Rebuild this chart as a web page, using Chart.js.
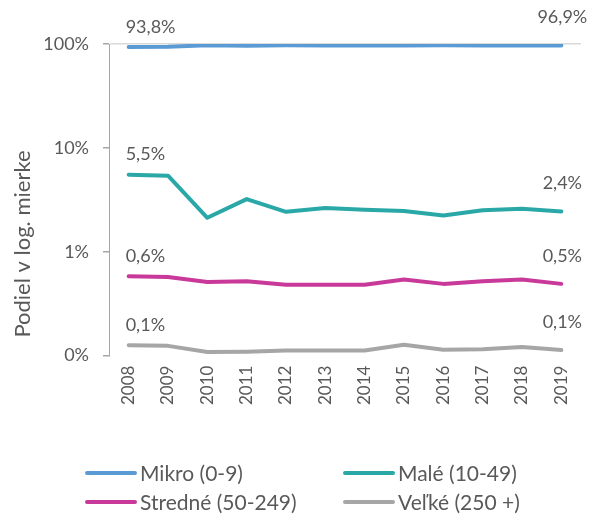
<!DOCTYPE html>
<html>
<head>
<meta charset="utf-8">
<script src="https://cdn.jsdelivr.net/npm/chart.js@4"></script>
<style>
  html, body { margin: 0; padding: 0; background: #fff; }
  #wrap { position: relative; width: 601px; height: 517px; }
  #legend {
    position: absolute; left: 85px; top: 458px;
    display: grid; grid-template-columns: 258px auto; grid-auto-rows: 29px;
    font-family: Lato, sans-serif; font-size: 21px; color: #595959;
  }
  #legend .item { display: flex; align-items: center; white-space: nowrap; }
  #legend .swatch { width: 52px; height: 4px; border-radius: 2px; margin-right: 3px; }
</style>
</head>
<body>
<div id="wrap">
  <canvas id="chart" width="601" height="517"></canvas>
  <div id="legend"></div>
</div>
<script>
const years = ["2008", "2009", "2010", "2011", "2012", "2013", "2014", "2015", "2016", "2017", "2018", "2019"];
const mikro = [93.8, 93.9, 97.3, 96.2, 97.0, 96.8, 96.9, 96.9, 97.2, 96.9, 96.8, 96.9];
const male = [5.52, 5.39, 2.12, 3.21, 2.42, 2.64, 2.53, 2.46, 2.23, 2.51, 2.59, 2.44];
const stredne = [0.58, 0.57, 0.51, 0.52, 0.48, 0.48, 0.48, 0.54, 0.49, 0.52, 0.54, 0.49];
const velke = [0.126, 0.124, 0.108, 0.109, 0.112, 0.112, 0.112, 0.127, 0.114, 0.115, 0.121, 0.113];
const seriesNames = ["Mikro (0-9)", "Malé (10-49)", "Stredné (50-249)", "Veľké (250 +)"];
const seriesColors = ["#5b9bd5", "#2aa8a8", "#c8399a", "#a6a6a6"];
const yTickValues = [0.1, 1, 10, 100];
const yTickLabels = ["0%", "1%", "10%", "100%"];
const yTitle = "Podiel v log. mierke";

const textColor = "#595959";
const fmt = (v) => v.toFixed(1).replace(".", ",") + "%";

// labels at first and last point + rotated axis title
const endLabels = {
  id: "endLabels",
  afterDatasetsDraw(chart) {
    const ctx = chart.ctx;
    ctx.save();
    ctx.font = "18px Lato";
    ctx.fillStyle = textColor;
    ctx.textBaseline = "middle";
    chart.data.datasets.forEach((ds, i) => {
      const pts = chart.getDatasetMeta(i).data;
      const last = pts.length - 1;
      ctx.textAlign = "left";
      ctx.fillText(fmt(ds.data[0]), pts[0].x - 3, pts[0].y - 20);
      ctx.textAlign = "center";
      ctx.fillText(fmt(ds.data[last]), pts[last].x + 1, pts[last].y - 28);
    });
    ctx.translate(23, 244);
    ctx.rotate(-Math.PI / 2);
    ctx.textAlign = "center";
    ctx.font = "22px Lato";
    ctx.fillText(yTitle, 0, 0);
    ctx.restore();
  }
};

const allSeries = [mikro, male, stredne, velke];

new Chart(document.getElementById("chart").getContext("2d"), {
  type: "line",
  data: {
    labels: years,
    datasets: allSeries.map((data, i) => ({
      label: seriesNames[i],
      data: data,
      borderColor: seriesColors[i],
      backgroundColor: seriesColors[i],
      borderWidth: 4,
      pointRadius: 0,
      tension: 0,
      borderCapStyle: "round",
      borderJoinStyle: "round",
      fill: false,
    })),
  },
  options: {
    responsive: false,
    animation: false,
    layout: { padding: { left: 0, right: 20, top: 44, bottom: 102 } },
    plugins: {
      legend: { display: false },
      tooltip: { enabled: false },
    },
    scales: {
      x: {
        type: "category",
        offset: true,
        grid: { display: false, drawTicks: false },
        border: { display: false },
        ticks: {
          autoSkip: false,
          minRotation: 90,
          maxRotation: 90,
          padding: 10,
          color: textColor,
          font: { family: "Lato", size: 17 },
        },
      },
      y: {
        type: "logarithmic",
        min: 0.1,
        max: 100,
        afterBuildTicks: (scale) => {
          scale.ticks = yTickValues.map((v) => ({ value: v }));
        },
        afterFit: (scale) => {
          scale.width = 109;
        },
        grid: {
          color: (c) => (c.tick && c.tick.value === 100 ? "#d9d9d9" : "rgba(0,0,0,0)"),
          tickColor: "#a6a6a6",
          tickLength: 6,
          lineWidth: 1.5,
        },
        border: { color: "#a6a6a6", width: 1 },
        ticks: {
          padding: 14,
          color: textColor,
          font: { family: "Lato", size: 18 },
          callback: (v) => yTickLabels[yTickValues.indexOf(v)],
        },
      },
    },
  },
  plugins: [endLabels],
});

// two-column legend under the chart
const legendEl = document.getElementById("legend");
seriesNames.forEach((name, i) => {
  const item = document.createElement("div");
  item.className = "item";
  const sw = document.createElement("span");
  sw.className = "swatch";
  sw.style.background = seriesColors[i];
  const txt = document.createElement("span");
  txt.textContent = name;
  item.appendChild(sw);
  item.appendChild(txt);
  legendEl.appendChild(item);
});
</script>
</body>
</html>
